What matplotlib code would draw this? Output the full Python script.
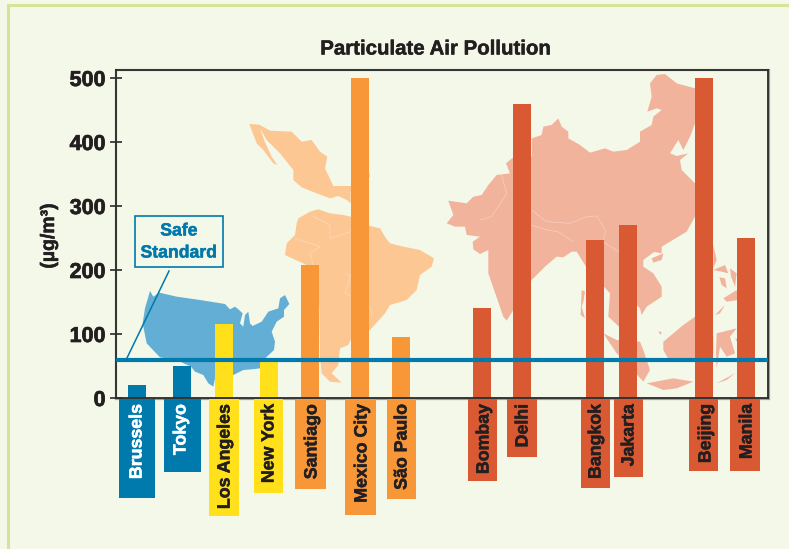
import matplotlib
matplotlib.use('Agg')
import matplotlib.pyplot as plt
import matplotlib.patheffects as pe
from matplotlib.patches import Polygon, Rectangle

WIDTH = 789
HEIGHT = 549

BG = '#F4F8E8'
FRAME = '#D6E39B'
INK = '#231F20'
BLUE = '#0079AC'
YELLOW = '#FFE01B'
ORANGE = '#F89738'
RED = '#D95A32'
USA_COLOR = '#62AED4'
LATIN_COLOR = '#FDC793'
ASIA_COLOR = '#F2B39C'

cities = ['Brussels', 'Tokyo', 'Los Angeles', 'New York', 'Santiago', 'Mexico City', 'São Paulo',
          'Bombay', 'Delhi', 'Bangkok', 'Jakarta', 'Beijing', 'Manila']
pollution = [20, 50, 115, 57, 208, 500, 95, 140, 460, 247, 270, 500, 250]
safe_standard = 60
yticks = [0, 100, 200, 300, 400, 500]

# layout, in picture pixels
bar_x = [137, 182, 224, 269, 310, 360, 401, 482, 522, 595, 628, 704, 746]
bar_colors = [BLUE] * 2 + [YELLOW] * 2 + [ORANGE] * 3 + [RED] * 6
label_x = [137, 181, 225, 269, 312, 362, 402, 484, 523, 596, 629, 706, 747]
box_left = [119, 164, 209, 254, 295, 345, 387, 468, 507, 581, 614, 689, 730]
box_right = [155, 201, 239, 283, 326, 376, 416, 497, 537, 610, 643, 718, 760]
box_bottom = [498, 472, 516, 493, 489, 515, 499, 481, 457, 488, 477, 471, 471]

# map outlines, traced on 3x crops of the reference
usa = [(60, 33), (70, 50), (88, 38), (140, 50), (210, 60), (285, 72), (300, 88), (315, 80), (325, 88),
       (338, 100), (330, 130), (340, 140), (345, 105), (355, 95), (360, 130), (368, 138), (395, 125),
       (415, 95), (445, 85), (450, 55), (465, 45), (478, 72), (462, 90), (462, 110), (440, 125),
       (425, 155), (435, 185), (432, 210), (400, 240), (390, 265), (365, 268), (340, 270), (310, 285),
       (290, 290), (255, 295), (250, 320), (235, 310), (220, 285), (195, 275), (183, 260), (140, 240),
       (90, 232), (50, 190), (38, 130), (45, 85)]
mexico = [(58, 42), (88, 44), (120, 62), (185, 65), (215, 95), (245, 90), (270, 125), (292, 140), (285, 175),
          (310, 228), (362, 228), (418, 188), (420, 200), (362, 245), (362, 280), (350, 270), (325, 258),
          (300, 265), (260, 250), (215, 232), (190, 210), (190, 180), (150, 130), (110, 90), (90, 55),
          (104, 95), (125, 140), (142, 165), (130, 160), (100, 120), (80, 100)]
south_america = [(205, 325), (240, 305), (265, 298), (300, 310), (340, 315), (362, 320), (420, 348), (450, 355),
                 (468, 385), (480, 400), (520, 410), (570, 420), (612, 445), (605, 470), (570, 495), (560, 540),
                 (530, 570), (480, 585), (465, 610), (420, 660), (362, 690), (355, 705), (330, 715), (325, 765),
                 (305, 790), (335, 818), (300, 815), (275, 790), (270, 740), (268, 600), (265, 520), (240, 470),
                 (165, 435), (170, 400), (195, 375), (200, 340)]
asia = [(50, 490), (70, 465), (55, 422), (110, 430), (130, 410), (155, 405), (175, 375), (200, 345), (240, 340),
        (228, 310), (250, 292), (305, 290), (305, 235), (335, 225), (340, 200), (365, 195), (385, 175), (395, 200),
        (415, 215), (415, 235), (450, 255), (480, 278), (525, 265), (550, 275), (590, 270), (630, 245), (630, 215),
        (665, 195), (670, 170), (695, 150), (680, 145), (652, 155), (665, 110), (660, 70), (680, 45), (705, 42),
        (740, 70), (795, 85), (795, 190), (780, 230), (760, 270), (745, 240), (720, 280), (740, 288), (775, 280),
        (750, 300), (755, 330), (795, 370), (795, 470), (770, 515), (720, 545), (695, 560), (695, 580), (672, 576),
        (640, 600), (640, 620), (670, 640), (695, 680), (695, 710), (650, 740), (635, 765), (630, 745), (620, 735),
        (567, 700), (567, 800), (535, 770), (540, 700), (522, 680), (468, 620), (440, 575), (425, 575), (400, 592),
        (380, 590), (345, 620), (305, 660), (250, 750), (230, 782), (220, 770), (175, 640), (175, 570), (150, 582),
        (130, 568), (128, 545), (150, 530), (110, 525), (105, 500), (75, 500)]
asia_islands = [
    [(665, 595), (700, 580), (695, 600), (670, 608)],
    [(520, 820), (560, 840), (630, 845), (640, 870), (660, 930), (640, 965), (600, 920), (560, 880)],
    [(700, 845), (760, 795), (795, 770), (850, 830), (850, 880), (795, 905), (720, 905), (700, 870)],
    [(650, 970), (730, 955), (790, 965), (740, 985), (700, 990)],
    [(860, 820), (920, 805), (900, 830), (915, 880), (890, 890), (870, 860), (860, 925), (858, 880)],
    [(850, 555), (860, 600), (850, 625)],
    [(850, 630), (885, 615), (895, 640), (875, 635)],
    [(868, 652), (885, 655), (890, 685), (875, 675)],
    [(900, 625), (920, 640), (915, 680), (903, 650)],
    [(880, 715), (920, 690), (925, 720), (890, 725)],
    [(855, 765), (885, 735), (870, 760)],
    [(860, 970), (915, 940), (890, 960)],
    [(975, 850), (915, 835), (930, 860)],
    [(455, 690), (465, 695), (460, 725), (455, 740), (465, 775), (452, 765)],
    [(685, 815), (695, 815), (692, 825)],
]
# thin pale country borders inside the maps
asia_borders = [
    [(215, 345), (230, 400), (185, 470), (150, 480)],
    [(305, 450), (350, 485), (420, 490), (470, 470), (500, 468), (527, 510), (520, 545), (565, 575)],
    [(305, 495), (350, 510), (385, 515), (430, 545)],
]
latin_borders = [
    [(250, 320), (300, 345), (300, 385), (362, 365)],
    [(195, 385), (270, 410), (240, 430), (265, 520)],
    [(348, 495), (362, 495), (345, 550), (420, 590), (425, 610)],
]


def to_pixels(points, left, top):
    return [(left + px / 3, top + py / 3) for px, py in points]


def heavy(text, width=0.35):
    # the reference type is blacker than Liberation Sans Bold
    text.set_path_effects([pe.withStroke(linewidth=width, foreground=text.get_color())])


fig = plt.figure(figsize=(WIDTH / 100, HEIGHT / 100), dpi=100, facecolor=BG)
plt.rcParams['font.family'] = ['Liberation Sans', 'DejaVu Sans']

# backdrop axes in picture pixels: frame, maps, callout and label boxes
deco = fig.add_axes([0, 0, 1, 1], zorder=0)
deco.set_xlim(0, WIDTH)
deco.set_ylim(HEIGHT, 0)
deco.axis('off')
deco.plot([8.5, 8.5, WIDTH], [HEIGHT, 5, 5], color=FRAME, lw=2.2, solid_joinstyle='miter')
deco.add_patch(Rectangle((116.5, 69.5), 652.5, 329.5, fill=False, ec='#A0A09A', lw=1.6))

deco.plot([169, 127], [271, 358], color=BLUE, lw=1.1)
deco.add_patch(Polygon(to_pixels(usa, 130, 280), fc=USA_COLOR, ec='none'))
deco.add_patch(Polygon(to_pixels(mexico, 230, 110), fc=LATIN_COLOR, ec='none'))
deco.add_patch(Polygon(to_pixels(south_america, 230, 110), fc=LATIN_COLOR, ec='none'))
deco.add_patch(Polygon(to_pixels(asia, 430, 60), fc=ASIA_COLOR, ec='none'))
for island in asia_islands:
    deco.add_patch(Polygon(to_pixels(island, 430, 60), fc=ASIA_COLOR, ec='none'))
for border in asia_borders:
    xs, ys = zip(*to_pixels(border, 430, 60))
    deco.plot(xs, ys, color='#F7CFC0', lw=0.5)
for border in latin_borders:
    xs, ys = zip(*to_pixels(border, 230, 110))
    deco.plot(xs, ys, color='#FEDBB8', lw=0.5)

deco.add_patch(Rectangle((135, 216), 88, 51, fc=BG, ec=BLUE, lw=1.2))
heavy(deco.text(179, 231, 'Safe', color=BLUE, fontsize=12.7, fontweight='bold', ha='center', va='center'))
heavy(deco.text(179, 253, 'Standard', color=BLUE, fontsize=12.7, fontweight='bold', ha='center', va='center'))

for i, city in enumerate(cities):
    deco.add_patch(Rectangle((box_left[i], 399), box_right[i] - box_left[i], box_bottom[i] - 399,
                             fc=bar_colors[i], ec='none'))
    heavy(deco.text(label_x[i], 404, city, rotation=90, ha='center', va='top', fontsize=12.8, fontweight='bold',
                    color='white' if bar_colors[i] == BLUE else INK))

# chart axes on top, x runs in picture pixels
ax = fig.add_axes([116 / WIDTH, 1 - 398 / HEIGHT, 652 / WIDTH, 328 / HEIGHT], zorder=1)
ax.patch.set_alpha(0)
ax.set_xlim(116, 768)
ax.set_ylim(0, 512.5)
ax.bar(bar_x, pollution, width=18, color=bar_colors, zorder=2)
ax.axhline(safe_standard, color=BLUE, lw=3, zorder=3)

for side in ax.spines.values():
    side.set_color('#2B2B2B')
    side.set_linewidth(1.3)
ax.set_xticks([])
ax.set_yticks(yticks)
ax.tick_params(axis='y', direction='inout', length=9, width=1.3, color='#3A3A3A', pad=3)
for label in ax.get_yticklabels():
    label.set_fontsize(15.5)
    label.set_fontweight('bold')
    label.set_color(INK)
    heavy(label, 0.5)

heavy(fig.text(435 / WIDTH, 1 - 49 / HEIGHT, 'Particulate Air Pollution', fontsize=14.7, fontweight='bold',
               color=INK, ha='center', va='center'))
heavy(fig.text(49 / WIDTH, 1 - 236 / HEIGHT, '(µg/m³)', fontsize=14, fontweight='bold', color=INK,
               rotation=90, ha='center', va='center'))

fig.savefig('out.png', dpi=100, facecolor=BG)
